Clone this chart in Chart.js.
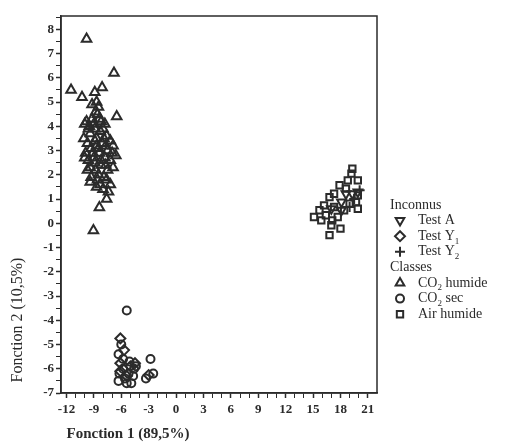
<!DOCTYPE html>
<html>
<head>
<meta charset="utf-8">
<script src="https://cdn.jsdelivr.net/npm/chart.js@4.4.1/dist/chart.umd.min.js"></script>
<style>
  html, body { margin: 0; padding: 0; background: #fff; }
  #wrap { width: 520px; height: 443px; }
</style>
</head>
<body>
<div id="wrap"><canvas id="chart1" width="520" height="443"></canvas></div>
<script>
// values
var co2Humide = [
    [-9.8, 7.6], [-6.8, 6.2], [-11.5, 5.5], [-10.3, 5.2], [-8.9, 5.4], [-8.1, 5.6],
    [-8.7, 5.0], [-8.5, 4.8], [-6.5, 4.4], [-8.4, 0.65], [-7.6, 1.0], [-9.05, -0.3],
    [-9.8, 4.2], [-9.2, 4.3], [-8.6, 4.5], [-8.2, 4.2], [-7.8, 4.1], [-9.5, 4.0],
    [-8.9, 3.9], [-10.1, 3.5], [-9.4, 3.7], [-8.3, 3.8], [-7.6, 3.6], [-7.2, 3.4],
    [-8.7, 3.5], [-9.9, 2.9], [-9.3, 3.1], [-8.7, 3.2], [-8.1, 3.3], [-7.5, 3.0],
    [-6.9, 3.2], [-6.6, 2.8], [-9.6, 2.6], [-9.0, 2.7], [-8.4, 2.9], [-7.8, 2.7],
    [-7.2, 2.6], [-8.9, 3.4], [-7.9, 3.5], [-9.4, 2.3], [-8.8, 2.2], [-8.2, 2.4],
    [-7.5, 2.2], [-6.9, 2.3], [-9.3, 1.9], [-8.6, 1.8], [-7.9, 1.9], [-7.2, 1.6],
    [-9.4, 1.7], [-8.0, 1.4], [-7.4, 1.3], [-8.9, 2.5], [-9.2, 4.9], [-8.8, 4.6],
    [-10.0, 4.1], [-9.0, 4.1], [-8.0, 3.9], [-9.7, 3.3], [-8.5, 3.1], [-7.7, 3.2],
    [-10.0, 2.7], [-9.1, 2.9], [-8.2, 2.6], [-7.0, 2.9], [-9.7, 2.2], [-8.5, 2.0],
    [-7.7, 2.4], [-8.3, 1.6], [-7.6, 1.8], [-8.7, 1.5], [-9.6, 3.9], [-8.4, 4.3]
];
var co2Sec = [
    [-5.4, -3.6], [-2.8, -5.6], [-2.5, -6.2], [-6.3, -6.5], [-5.4, -6.6], [-4.7, -6.3],
    [-4.4, -5.9], [-5.8, -5.6], [-6.3, -5.4], [-3.3, -6.4], [-5.8, -6.0], [-5.1, -5.7],
    [-6.0, -5.0], [-5.2, -6.2], [-4.9, -6.6], [-6.2, -6.2], [-5.6, -6.4], [-4.6, -6.0]
];
var airHumide = [
    [19.3, 2.25], [19.2, 2.05], [18.8, 1.77], [19.9, 1.77], [17.9, 1.57], [18.6, 1.43],
    [17.3, 1.22], [16.8, 1.08], [19.9, 1.15], [19.7, 0.88], [19.9, 0.6], [16.2, 0.74],
    [15.7, 0.54], [15.1, 0.26], [15.9, 0.12], [16.4, 0.33], [17.1, 0.12], [17.7, 0.26],
    [17.0, -0.08], [18.0, -0.22], [16.8, -0.49], [19.0, 0.81], [17.3, 0.67], [18.4, 0.54]
];
var testA = [[18.6, 1.22], [19.3, 1.22], [19.9, 1.29], [18.1, 0.88], [17.0, 0.6], [18.1, 0.54]];
var testY1 = [
    [-6.1, -4.75], [-5.7, -5.23], [-6.1, -5.77], [-5.0, -5.9], [-4.5, -5.77],
    [-3.0, -6.26], [-5.4, -6.3], [-6.1, -6.1]
];
var testY2 = [[19.5, 1.0], [19.0, 0.67], [20.1, 1.36]];

var xTicks = [-12, -9, -6, -3, 0, 3, 6, 9, 12, 15, 18, 21];
var yTicks = [-7, -6, -5, -4, -3, -2, -1, 0, 1, 2, 3, 4, 5, 6, 7, 8];

var ink = "#2b2b2b";

function pts(arr) {
    return arr.map(function (p) { return {x: p[0], y: p[1]}; });
}

function serie(label, arr, style, radius, rotation) {
    return {
        label: label,
        data: pts(arr),
        pointStyle: style,
        pointRadius: radius,
        pointRotation: rotation || 0,
        borderColor: ink,
        backgroundColor: "rgba(0,0,0,0)",
        borderWidth: 2,
        showLine: false
    };
}

// legend entries, in the order of the picture
var legendRows = [
    {head: "Inconnus"},
    {style: "triangle", rot: 180, r: 5, text: "Test A"},
    {style: "rectRot", r: 5, text: "Test Y", sub: "1"},
    {style: "cross", r: 5, text: "Test Y", sub: "2"},
    {head: "Classes"},
    {style: "triangle", r: 5, text: "CO", sub: "2", after: " humide"},
    {style: "circle", r: 4, text: "CO", sub: "2", after: " sec"},
    {style: "rect", r: 4.5, text: "Air humide"}
];

var extras = {
    id: "extras",
    afterDraw: function (chart) {
        var ctx = chart.ctx;
        var a = chart.chartArea;
        ctx.save();
        ctx.strokeStyle = ink;
        ctx.lineWidth = 1.5;
        ctx.strokeRect(a.left, a.top, a.right - a.left, a.bottom - a.top);

        // axis titles
        ctx.fillStyle = ink;
        ctx.font = "bold 15px 'Liberation Serif'";
        ctx.textAlign = "center";
        ctx.textBaseline = "middle";
        ctx.fillText("Fonction 1 (89,5%)", 128, 434);
        ctx.save();
        ctx.translate(18, 320);
        ctx.rotate(-Math.PI / 2);
        ctx.font = "16px 'Liberation Serif'";
        ctx.fillText("Fonction 2 (10,5%)", 0, 0);
        ctx.restore();

        // legend
        ctx.textAlign = "left";
        ctx.textBaseline = "middle";
        var y = 205;
        legendRows.forEach(function (row) {
            ctx.font = "14px 'Liberation Serif'";
            ctx.fillStyle = ink;
            if (row.head) {
                ctx.fillText(row.head, 390, y);
            } else {
                ctx.strokeStyle = ink;
                ctx.lineWidth = 2;
                ctx.fillStyle = "rgba(0,0,0,0)";
                Chart.helpers.drawPoint(ctx, {pointStyle: row.style, radius: row.r, rotation: row.rot || 0, borderWidth: 2}, 400, y);
                ctx.fillStyle = ink;
                var x = 418;
                ctx.fillText(row.text, x, y);
                x += ctx.measureText(row.text).width;
                if (row.sub) {
                    ctx.font = "9px 'Liberation Serif'";
                    ctx.fillText(row.sub, x, y + 5);
                    x += ctx.measureText(row.sub).width;
                    ctx.font = "14px 'Liberation Serif'";
                }
                if (row.after) ctx.fillText(row.after, x, y);
            }
            y += 15.6;
        });
        ctx.restore();
    }
};

new Chart(document.getElementById("chart1"), {
    type: "scatter",
    data: {
        datasets: [
            serie("CO2 humide", co2Humide, "triangle", 5.5),
            serie("CO2 sec", co2Sec, "circle", 4),
            serie("Air humide", airHumide, "rect", 4.5),
            serie("Test A", testA, "triangle", 5, 180),
            serie("Test Y1", testY1, "rectRot", 5),
            serie("Test Y2", testY2, "cross", 5)
        ]
    },
    options: {
        responsive: false,
        animation: false,
        layout: {padding: {left: 0, top: 16, right: 143, bottom: 0}},
        plugins: {legend: {display: false}, tooltip: {enabled: false}},
        scales: {
            x: {
                type: "linear",
                min: -12.6,
                max: 22,
                afterFit: function (s) { s.height = 50; },
                afterBuildTicks: function (s) {
                    var t = [];
                    for (var v = -12; v <= 21; v++) t.push({value: v});
                    s.ticks = t;
                },
                border: {display: true, color: ink, width: 1.5},
                grid: {drawOnChartArea: false, tickLength: 5, tickColor: ink,
                    tickWidth: function (c) { return xTicks.indexOf(c.tick.value) >= 0 ? 1.5 : 1; }},
                ticks: {
                    autoSkip: false, maxRotation: 0, padding: 4, color: ink,
                    font: {family: "'Liberation Serif'", size: 13, weight: "bold"},
                    callback: function (v) { return xTicks.indexOf(v) >= 0 ? String(v) : ""; }
                }
            },
            y: {
                type: "linear",
                min: -7,
                max: 8.55,
                afterFit: function (s) { s.width = 61; },
                afterBuildTicks: function (s) {
                    var t = [];
                    for (var v = -7; v <= 8.5; v += 0.5) t.push({value: v});
                    s.ticks = t;
                },
                border: {display: true, color: ink, width: 1.5},
                grid: {drawOnChartArea: false, tickLength: 5, tickColor: ink,
                    tickWidth: function (c) { return yTicks.indexOf(c.tick.value) >= 0 ? 1.5 : 1; }},
                ticks: {
                    autoSkip: false, padding: 2, color: ink,
                    font: {family: "'Liberation Serif'", size: 13, weight: "bold"},
                    callback: function (v) { return yTicks.indexOf(v) >= 0 ? String(v) : ""; }
                }
            }
        }
    },
    plugins: [extras]
});
</script>
</body>
</html>
